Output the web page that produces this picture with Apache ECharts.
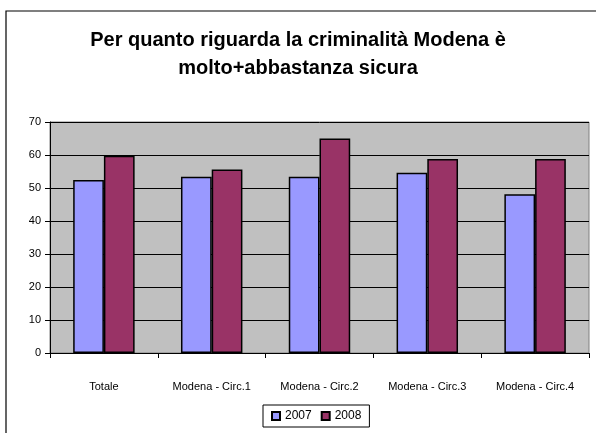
<!DOCTYPE html>
<html>
<head>
<meta charset="utf-8">
<script src="https://cdn.jsdelivr.net/npm/echarts@6/dist/echarts.min.js"></script>
<style>
  html, body { margin: 0; padding: 0; background: #fff; }
  #chart { width: 596px; height: 433px; }
</style>
</head>
<body>
<div id="chart"></div>
<script>
// dati
var categories = ['Totale', 'Modena - Circ.1', 'Modena - Circ.2', 'Modena - Circ.3', 'Modena - Circ.4'];
var values2007 = [52.4, 53.4, 53.4, 54.6, 48.1];
var values2008 = [59.8, 55.6, 65.0, 58.8, 58.8];
var seriesNames = ['2007', '2008'];

var chart = echarts.init(document.getElementById('chart'));

var barBorder = { borderColor: '#000', borderWidth: 1.5 };

chart.setOption({
  animation: false,
  textStyle: { fontFamily: 'Liberation Sans, Arial, sans-serif' },
  graphic: [{
    type: 'rect',
    shape: { x: 6, y: 11, width: 620, height: 460 },
    style: { fill: 'none', stroke: '#000', lineWidth: 1.2 },
    silent: true
  }],
  title: {
    text: 'Per quanto riguarda la criminalità Modena è\nmolto+abbastanza sicura',
    left: 'center',
    top: 21,
    textStyle: { fontSize: 20, fontWeight: 'bold', color: '#000', lineHeight: 28 }
  },
  legend: {
    data: seriesNames,
    bottom: 6,
    left: 263,
    itemWidth: 8,
    itemHeight: 8,
    itemGap: 9,
    padding: [5, 8],
    borderColor: '#000',
    borderWidth: 1,
    borderRadius: 0,
    textStyle: { fontSize: 12, color: '#000' },
    icon: 'rect'
  },
  grid: {
    left: 50, right: 7, top: 122, bottom: 80,
    show: true,
    backgroundColor: '#c0c0c0',
    borderColor: '#808080',
    borderWidth: 1
  },
  xAxis: {
    type: 'category',
    data: categories,
    axisLine: { lineStyle: { color: '#000', width: 1 } },
    axisTick: { show: true, length: 5, lineStyle: { color: '#000' } },
    axisLabel: { color: '#000', fontSize: 11, margin: 28 }
  },
  yAxis: {
    type: 'value',
    min: 0, max: 70, interval: 10,
    axisLine: { show: true, lineStyle: { color: '#000', width: 1 } },
    axisTick: { show: true, length: 5, lineStyle: { color: '#000' } },
    axisLabel: { color: '#000', fontSize: 11, margin: 9 },
    splitLine: { lineStyle: { color: '#000', width: 1 } }
  },
  series: [{
    name: seriesNames[0],
    type: 'bar',
    data: values2007,
    barGap: '0%',
    barCategoryGap: '43%',
    itemStyle: Object.assign({ color: '#9999ff' }, barBorder)
  }, {
    name: seriesNames[1],
    type: 'bar',
    data: values2008,
    itemStyle: Object.assign({ color: '#993366' }, barBorder)
  }]
});
</script>
</body>
</html>
